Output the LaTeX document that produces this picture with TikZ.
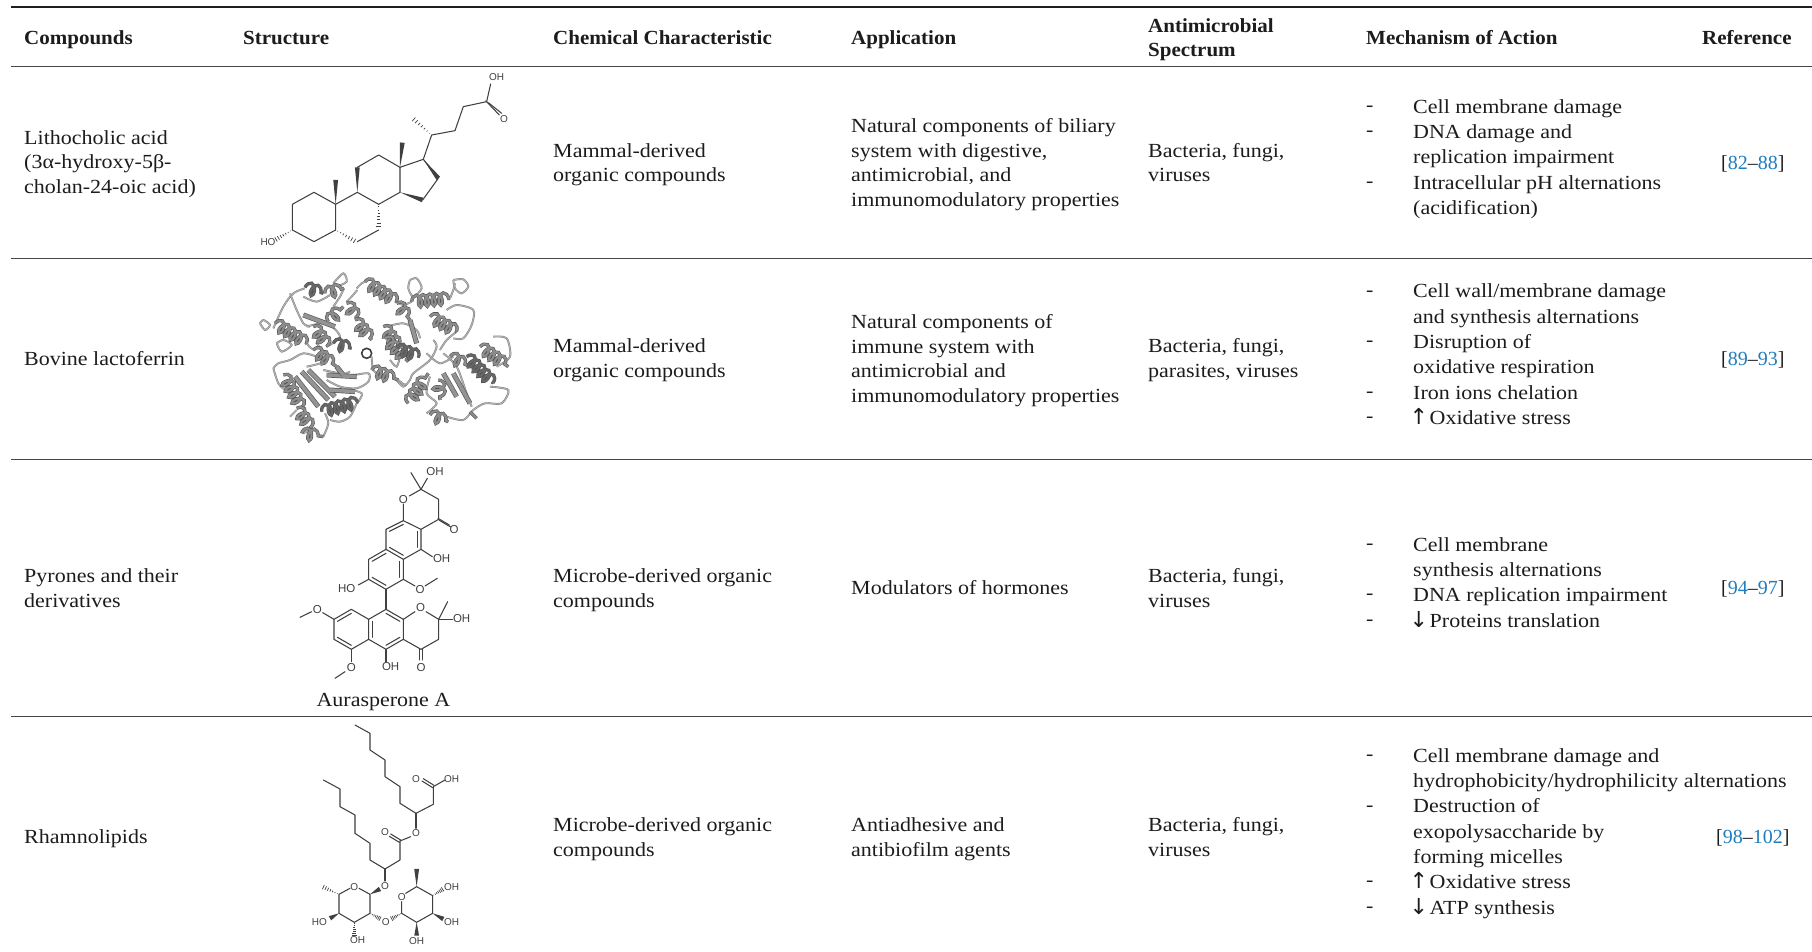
\documentclass[tikz,border=0pt]{standalone}
\usepackage{fontspec}
\setmainfont{Liberation Serif}[FakeStretch=1.10,BoldFeatures={FakeStretch=1.05}]
\newfontfamily\chemfont{Liberation Sans}
\newfontfamily\reffont{Liberation Serif}
\newfontfamily\arrowfont{DejaVu Sans}
\usetikzlibrary{calc,decorations.pathmorphing}
\definecolor{txt}{HTML}{1C1C1C}
\definecolor{refblue}{HTML}{1F7DBE}
\newcommand{\wedgeb}[2]{\fill[chemink] #1 -- ($#2!2.4pt!90:#1$) -- ($#2!2.4pt!-90:#1$) -- cycle;}
\newcommand{\hashb}[2]{\foreach \t/\w in {.1/.3,.24/.6,.38/.95,.52/1.3,.66/1.65,.8/2,.94/2.35}{\draw[chemink,line width=.7pt] ($#1!\t!#2!\w pt!90:#1$) -- ($#1!\t!#2!\w pt!-90:#1$);}}
\newcommand{\inner}[3]{\draw[bond] ($#1!.2!#3$) -- ($#2!.2!#3$);}
\newcommand{\helix}[2]{\draw[helixo] #1 -- #2;\draw[helixi] #1 -- #2;}
\newcommand{\dhelix}[2]{\draw[helixo] #1 -- #2;\draw[helixd] #1 -- #2;}
\newcommand{\sheet}[2]{\draw[line width=5pt,color=black!65] #1 -- #2;\draw[line width=3.6pt,color=black!42] #1 -- #2;}
\newcommand{\lp}[1]{\draw[loopo] plot[smooth] coordinates {#1};\draw[loopi] plot[smooth] coordinates {#1};}
\newcommand{\up}{\makebox[11pt][c]{\arrowfont\fontsize{22}{22}\selectfont ↑}}
\newcommand{\down}{\makebox[11pt][c]{\arrowfont\fontsize{22}{22}\selectfont ↓}}
\newcommand{\refs}[2]{{\reffont[\textcolor{refblue}{#1}–\textcolor{refblue}{#2}]}}
\tikzset{
  chemink/.style={color=black!75},
  bond/.style={chemink,line width=1.05pt,line cap=round,line join=round},
  cell/.style={anchor=west,align=left,inner sep=0pt,text=txt,yshift=-3.6pt,
    font=\fontsize{20}{24.4}\selectfont,
    execute at begin node=\strut,execute at end node=\strut},
  mech/.style={cell,yshift=-1pt,font=\fontsize{20}{25.3}\selectfont},
  dashcell/.style={mech,yshift=-1.8pt},
  head/.style={cell,yshift=1pt,font=\fontsize{20}{24.4}\selectfont\bfseries},
  atom/.style={inner sep=0pt,text=black!75,font=\chemfont\fontsize{10}{10}\selectfont},
  atomb/.style={inner sep=0pt,text=black!75,font=\chemfont\fontsize{11.5}{12}\selectfont},
  rule/.style={line width=1.2pt,color=black!72},
  helixo/.style={line width=3.3pt,color=black!68,decorate,decoration={coil,aspect=.55,segment length=6.8pt,amplitude=6pt}},
  helixi/.style={line width=2.2pt,color=black!45,decorate,decoration={coil,aspect=.55,segment length=6.8pt,amplitude=6pt}},
  helixd/.style={line width=2.2pt,color=black!60,decorate,decoration={coil,aspect=.55,segment length=6.8pt,amplitude=6pt}},
  loopo/.style={line width=1.9pt,color=black!50},
  loopi/.style={line width=1pt,color=black!30},
}
\begin{document}
\begin{tikzpicture}[x=1pt,y=-1pt]
\useasboundingbox (0,0) rectangle (1812,952);
\fill[white] (0,0) rectangle (1812,952);
% rules
\coordinate (r0l) at (11,7); \coordinate (r0r) at (1812,7);
\coordinate (r1l) at (11,66.5); \coordinate (r1r) at (1812,66.5);
\coordinate (r2l) at (11,258.5); \coordinate (r2r) at (1812,258.5);
\coordinate (r3l) at (11,459.5); \coordinate (r3r) at (1812,459.5);
\coordinate (r4l) at (11,716.5); \coordinate (r4r) at (1812,716.5);
\draw[line width=2pt,color=black!88] (r0l) -- (r0r);
\draw[rule] (r1l) -- (r1r);
\draw[rule] (r2l) -- (r2r);
\draw[rule] (r3l) -- (r3r);
\draw[rule] (r4l) -- (r4r);
% header
\node[head] (h1) at (24,37.5) {Compounds};
\node[head] (h2) at (243,37.5) {Structure};
\node[head] (h3) at (553,37.5) {Chemical Characteristic};
\node[head] (h4) at (851,37.5) {Application};
\node[head] (h5) at (1148,38.5) {Antimicrobial\\Spectrum};
\node[head] (h6) at (1366,37.5) {Mechanism of Action};
\node[head] (h7) at (1702,37.5) {Reference};
% row 1
\node[cell] (c11) at (24,162) {Lithocholic acid\\(3α-hydroxy-5β-\\cholan-24-oic acid)};
\node[cell] (c13) at (553,162.5) {Mammal-derived\\organic compounds};
\node[cell] (c14) at (851,162.5) {Natural components of biliary\\system with digestive,\\antimicrobial, and\\immunomodulatory properties};
\node[cell] (c15) at (1148,162.5) {Bacteria, fungi,\\viruses};
\node[dashcell] (c16d) at (1366,156.5) {-\\-\\ \\-\\ };
\node[mech] (c16) at (1413,156) {Cell membrane damage\\DNA damage and\\replication impairment\\Intracellular pH alternations\\(acidification)};
\node[cell] (c17) at (1721,161) {\refs{82}{88}};
% row 2
\node[cell] (c21) at (24,357) {Bovine lactoferrin};
\node[cell] (c23) at (553,358) {Mammal-derived\\organic compounds};
\node[cell] (c24) at (851,358.5) {Natural components of\\immune system with\\antimicrobial and\\immunomodulatory properties};
\node[cell] (c25) at (1148,358) {Bacteria, fungi,\\parasites, viruses};
\node[dashcell] (c26d) at (1366,354) {-\\ \\-\\ \\-\\-};
\node[mech] (c26) at (1413,353.5) {Cell wall/membrane damage\\and synthesis alternations\\Disruption of\\oxidative respiration\\Iron ions chelation\\\up{} Oxidative stress};
\node[cell] (c27) at (1721,357) {\refs{89}{93}};
% row 3
\node[cell] (c31) at (24,588) {Pyrones and their\\derivatives};
\node[cell] (c33) at (553,588) {Microbe-derived organic\\compounds};
\node[cell] (c34) at (851,586) {Modulators of hormones};
\node[cell] (c35) at (1148,588) {Bacteria, fungi,\\viruses};
\node[dashcell] (c36d) at (1366,582) {-\\ \\-\\-};
\node[mech] (c36) at (1413,581.5) {Cell membrane\\synthesis alternations\\DNA replication impairment\\\down{} Proteins translation};
\node[cell] (c37) at (1721,586) {\refs{94}{97}};
\node[cell,anchor=center] (aur) at (383.5,698) {Aurasperone A};
% row 4
\node[cell] (c41) at (24,835) {Rhamnolipids};
\node[cell] (c43) at (553,837) {Microbe-derived organic\\compounds};
\node[cell] (c44) at (851,837) {Antiadhesive and\\antibiofilm agents};
\node[cell] (c45) at (1148,837) {Bacteria, fungi,\\viruses};
\node[dashcell] (c46d) at (1366,831) {-\\ \\-\\ \\ \\-\\-};
\node[mech] (c46) at (1413,830.5) {Cell membrane damage and\\hydrophobicity/hydrophilicity alternations\\Destruction of\\exopolysaccharide by\\forming micelles\\\up{} Oxidative stress\\\down{} ATP synthesis};
\node[cell] (c47) at (1716,835) {\refs{98}{102}};

% lithocholic acid
\begin{scope}[shift={(240,60)},x=.3333pt,y=-.3333pt]
\draw[bond] (222,397) -- (157,433) -- (157,510) -- (222,545) -- (287,510) -- (287,433) -- cycle;
\draw[bond] (287,433) -- (352,397) -- (416,433);
\draw[bond] (416,510) -- (352,545);
\draw[bond] (287,510) -- (287,433);
\draw[bond] (352,322) -- (416,285) -- (480,322) -- (480,397) -- (416,433);
\draw[bond] (480,322) -- (550,298) -- (595,355) -- (548,420);
\draw[bond] (550,298) -- (575,225) -- (645,212) -- (670,140) -- (740,125) -- (752,72);
\draw[bond] (737,122) -- (778,165);
\draw[bond] (745,128) -- (785,160);
\wedgeb{(352,397)}{(352,322)}
\wedgeb{(287,433)}{(287,360)}
\wedgeb{(480,322)}{(487,248)}
\wedgeb{(550,298)}{(595,355)}
\wedgeb{(480,397)}{(548,420)}
\hashb{(416,433)}{(416,503)}
\hashb{(287,510)}{(347,545)}
\hashb{(157,510)}{(105,540)}
\hashb{(575,225)}{(518,175)}
\node[atom] (la1) at (770,52) {OH};
\node[atom] (la2) at (792,178) {O};
\node[atom] (la3) at (84,545) {HO};
\end{scope}

% lactoferrin
\begin{scope}[shift={(240,260)},x=.3333pt,y=-.3333pt]
\lp{(60,190)(70,180)(90,195)(75,210)(60,190)}
\lp{(100,205)(130,140)(160,100)(195,85)}
\lp{(150,100)(170,150)(190,190)(210,200)}
\lp{(190,110)(230,125)(270,105)}
\lp{(280,70)(310,40)(320,65)(290,80)}
\lp{(110,250)(125,275)(155,255)(130,240)(110,250)}
\lp{(100,325)(115,310)(150,300)(190,280)(230,290)}
\lp{(100,325)(115,370)(135,390)}
\lp{(250,330)(330,345)(385,340)(385,365)(350,385)(300,380)(260,360)}
\lp{(270,480)(300,485)(330,470)(350,430)}
\lp{(150,470)(170,450)}
\lp{(395,290)(400,330)(425,350)}
\lp{(470,360)(490,380)(510,360)(520,340)(570,300)(590,260)(580,240)}
\lp{(510,60)(530,55)(545,85)(520,110)(505,85)(510,60)}
\lp{(640,60)(670,58)(685,80)(665,100)(645,85)(640,60)}
\lp{(620,150)(650,135)(700,150)(695,195)(670,235)(640,235)}
\lp{(440,200)(490,190)(530,210)(540,235)}
\lp{(760,230)(800,235)(810,290)(770,320)}
\lp{(750,380)(805,390)(785,430)(735,430)(700,450)(670,480)(620,470)}
\lp{(570,350)(560,400)(590,430)(560,460)}
\lp{(610,280)(650,320)(680,400)(695,440)}
\lp{(450,300)(470,320)(480,290)}
\lp{(200,200)(260,190)(300,230)(260,260)}
\lp{(312,85)(300,110)(280,140)}
\lp{(200,250)(210,262)(222,270)}
\lp{(290,320)(300,345)(330,335)}
\lp{(470,125)(490,135)(515,125)}
\lp{(215,505)(200,515)(190,520)}
\lp{(250,530)(265,490)(255,460)}
\lp{(355,425)(365,400)(320,385)}
\lp{(475,360)(490,372)(500,375)}
\lp{(630,115)(640,90)(645,70)}
\lp{(650,215)(620,240)(600,270)}
\lp{(350,85)(365,70)(380,62)}
\lp{(320,125)(335,110)(352,90)}
\lp{(230,250)(260,300)(200,320)}
\lp{(560,280)(600,310)(640,290)}
\sheet{(185,335)}{(265,420)}
\sheet{(205,330)}{(285,410)}
\sheet{(165,350)}{(235,440)}
\sheet{(260,345)}{(350,350)}
\sheet{(270,390)}{(345,395)}
\sheet{(510,180)}{(530,250)}
\sheet{(640,340)}{(690,430)}
\sheet{(285,200)}{(190,165)}
\sheet{(290,320)}{(310,345)}
\sheet{(610,340)}{(650,410)}
\dhelix{(195,82)}{(250,100)}
\helix{(255,100)}{(312,85)}
\helix{(265,185)}{(310,140)}
\helix{(320,130)}{(355,180)}
\helix{(345,180)}{(395,240)}
\helix{(375,65)}{(470,125)}
\helix{(105,190)}{(200,250)}
\helix{(220,200)}{(265,260)}
\helix{(220,270)}{(290,320)}
\dhelix{(280,250)}{(335,265)}
\helix{(130,345)}{(185,445)}
\helix{(170,445)}{(215,505)}
\helix{(185,520)}{(250,530)}
\dhelix{(245,455)}{(355,425)}
\helix{(430,200)}{(480,265)}
\helix{(435,235)}{(505,305)}
\dhelix{(470,265)}{(540,290)}
\helix{(470,130)}{(510,180)}
\helix{(515,125)}{(630,115)}
\helix{(570,170)}{(650,215)}
\helix{(505,430)}{(565,340)}
\helix{(570,465)}{(625,485)}
\helix{(595,360)}{(600,420)}
\helix{(630,290)}{(690,320)}
\dhelix{(680,290)}{(760,370)}
\helix{(720,260)}{(805,320)}
\helix{(395,330)}{(475,360)}
\helix{(690,455)}{(710,475)}
\draw[line width=1.6pt,color=black!75] (380,280) circle (15);
\end{scope}

% aurasperone A
\begin{scope}[shift={(280,460)},x=.3333pt,y=-.3333pt]
\draw[bond] (393,38) -- (423,88) -- (442,55);
\draw[bond] (388,108) -- (423,88) -- (476,118) -- (476,178) -- (423,208) -- (370,182) -- (370,132);
\draw[bond] (370,182) -- (318,208) -- (318,268) -- (370,298) -- (423,268) -- (423,208);
\draw[bond] (474,175) -- (508,195);
\draw[bond] (478,181) -- (512,201);
\draw[bond] (423,268) -- (457,290);
\draw[bond] (318,268) -- (266,298) -- (266,358) -- (318,388) -- (370,358) -- (370,298);
\draw[bond] (266,358) -- (235,375);
\draw[bond] (370,358) -- (405,378);
\draw[bond] (435,378) -- (472,355);
\draw[bond] (318,388) -- (318,448);
\draw[bond] (318,448) -- (370,478) -- (370,538) -- (318,568) -- (266,538) -- (266,478) -- cycle;
\draw[bond] (266,478) -- (214,448) -- (162,478) -- (162,538) -- (214,568) -- (266,538);
\draw[bond] (162,478) -- (128,458);
\draw[bond] (95,455) -- (60,472);
\draw[bond] (214,568) -- (214,605);
\draw[bond] (195,635) -- (165,655);
\draw[bond] (318,568) -- (318,605);
\draw[bond] (370,538) -- (423,568) -- (476,538) -- (476,478) -- (438,455);
\draw[bond] (405,455) -- (370,478);
\draw[bond] (476,478) -- (503,425);
\draw[bond] (476,478) -- (518,478);
\draw[bond] (419,568) -- (419,600);
\draw[bond] (427,568) -- (427,600);
\inner{(370,182)}{(318,208)}{(370,238)}
\inner{(423,268)}{(423,208)}{(370,238)}
\inner{(318,268)}{(370,298)}{(370,238)}
\inner{(318,268)}{(266,298)}{(318,328)}
\inner{(266,358)}{(318,388)}{(318,328)}
\inner{(370,358)}{(370,298)}{(318,328)}
\inner{(318,448)}{(370,478)}{(318,508)}
\inner{(266,478)}{(266,538)}{(318,508)}
\inner{(318,568)}{(370,538)}{(318,508)}
\inner{(214,448)}{(162,478)}{(214,508)}
\inner{(162,538)}{(214,568)}{(214,508)}
\node[atomb] (a1) at (465,35) {OH};
\node[atomb] (a2) at (370,118) {O};
\node[atomb] (a3) at (522,208) {O};
\node[atomb] (a4) at (485,295) {OH};
\node[atomb] (a5) at (200,385) {HO};
\node[atomb] (a6) at (420,388) {O};
\node[atomb] (a7) at (112,448) {O};
\node[atomb] (a8) at (214,622) {O};
\node[atomb] (a9) at (332,620) {OH};
\node[atomb] (a10) at (422,442) {O};
\node[atomb] (a11) at (545,475) {OH};
\node[atomb] (a12) at (423,622) {O};
\end{scope}

% rhamnolipid
\begin{scope}[shift={(290,715)},x=.3333pt,y=-.3333pt]
\draw[bond] (195,30) -- (240,55) -- (240,105) -- (285,135) -- (285,185) -- (330,215) -- (330,265) -- (378,295) -- (430,268) -- (430,215) -- (465,195);
\draw[bond] (428,218) -- (396,198);
\draw[bond] (432,211) -- (400,191);
\draw[bond] (378,295) -- (378,340);
\draw[bond] (362,365) -- (330,378);
\draw[bond] (328,382) -- (298,364);
\draw[bond] (332,375) -- (302,357);
\draw[bond] (330,378) -- (330,435) -- (285,462) -- (240,435) -- (240,385) -- (195,355) -- (195,300) -- (150,275) -- (150,222) -- (100,195);
\draw[bond] (285,462) -- (285,498);
\draw[bond] (207,520) -- (240,538) -- (240,595) -- (193,622) -- (147,595) -- (147,538) -- (180,520);
\draw[bond] (335,560) -- (335,595) -- (380,622) -- (428,595) -- (428,542) -- (380,515) -- (347,535);
\wedgeb{(240,538)}{(270,522)}
\wedgeb{(147,595)}{(120,610)}
\wedgeb{(380,515)}{(380,462)}
\wedgeb{(428,595)}{(460,612)}
\wedgeb{(380,622)}{(380,662)}
\hashb{(147,538)}{(97,515)}
\hashb{(193,622)}{(193,662)}
\hashb{(240,595)}{(272,612)}
\hashb{(335,595)}{(303,612)}
\hashb{(428,542)}{(460,522)}
\node[atom] (b1) at (378,192) {O};
\node[atom] (b2) at (485,192) {OH};
\node[atom] (b3) at (378,355) {O};
\node[atom] (b4) at (285,352) {O};
\node[atom] (b5) at (285,513) {O};
\node[atom] (b6) at (193,515) {O};
\node[atom] (b7) at (335,545) {O};
\node[atom] (b8) at (287,622) {O};
\node[atom] (b9) at (88,622) {HO};
\node[atom] (b10) at (203,675) {OH};
\node[atom] (b11) at (485,515) {OH};
\node[atom] (b12) at (485,622) {OH};
\node[atom] (b13) at (380,678) {OH};
\end{scope}
\end{tikzpicture}
\end{document}
